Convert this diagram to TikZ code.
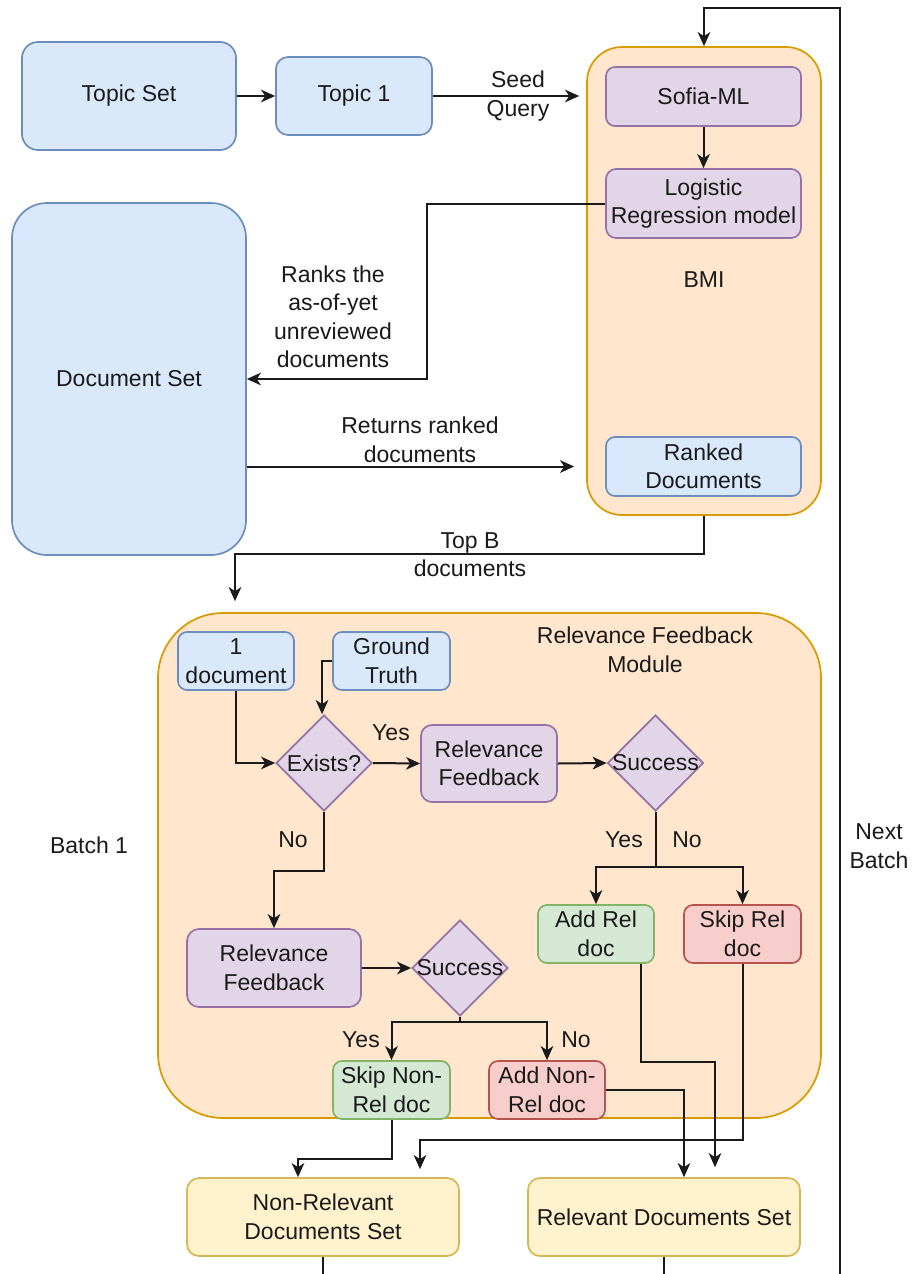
\documentclass[tikz,border=0pt]{standalone}
\usepackage{fontspec}
\setmainfont{Liberation Sans}
\usetikzlibrary{shapes.geometric,arrows.meta}

\definecolor{bluefill}{HTML}{DAE8FC}\definecolor{bluedraw}{HTML}{6C8EBF}
\definecolor{orafill}{HTML}{FFE6CC}\definecolor{oradraw}{HTML}{D79B00}
\definecolor{purfill}{HTML}{E1D5E7}\definecolor{purdraw}{HTML}{9673A6}
\definecolor{grnfill}{HTML}{D5E8D4}\definecolor{grndraw}{HTML}{82B366}
\definecolor{redfill}{HTML}{F8CECC}\definecolor{reddraw}{HTML}{B85450}
\definecolor{yelfill}{HTML}{FFF2CC}\definecolor{yeldraw}{HTML}{D6B656}
\definecolor{ink}{HTML}{1A1A1A}

\newcommand\diagfont{\fontsize{23}{28.5}\selectfont}

\begin{document}
\begin{tikzpicture}[x=1pt,y=-1pt,
  box/.style={draw, line width=1.7pt, inner sep=0pt, align=center,
    font=\diagfont, text=ink},
  bluebox/.style={box, fill=bluefill, draw=bluedraw},
  orabox/.style={box, fill=orafill, draw=oradraw},
  purbox/.style={box, fill=purfill, draw=purdraw},
  grnbox/.style={box, fill=grnfill, draw=grndraw},
  redbox/.style={box, fill=redfill, draw=reddraw},
  yelbox/.style={box, fill=yelfill, draw=yeldraw},
  decision/.style={diamond, aspect=1, draw=purdraw, fill=purfill,
    line width=1.7pt, inner sep=0pt, minimum width=96pt, minimum height=96pt,
    label={[font=\diagfont, text=ink]center:#1}},
  lbl/.style={font=\diagfont, align=center, inner sep=0pt, text=ink},
  arr/.style={draw=ink, line width=2pt,
    -{Stealth[length=14pt,width=12.5pt,inset=4pt]}},
  wire/.style={draw=ink, line width=2pt}]

\clip (0,0) rectangle (912,1274);
\fill[white] (0,0) rectangle (912,1274);

% ---------- top row ----------
\node[bluebox, minimum width=214, minimum height=108, rounded corners=16]
  (topicset) at (129,96) {Topic Set};
\node[bluebox, minimum width=156, minimum height=78, rounded corners=12]
  (topic1) at (354,96) {Topic 1};

% ---------- BMI container ----------
\node[orabox, minimum width=234, minimum height=468, rounded corners=35]
  (bmi) at (704,281) {};
\node[purbox, minimum width=195, minimum height=59, rounded corners=9]
  (sofia) at (703.5,96.5) {Sofia-ML};
\node[purbox, minimum width=195, minimum height=69, rounded corners=10]
  (logit) at (703.5,203.5) {Logistic\\Regression model};
\node[lbl] (bmilabel) at (704,280) {BMI};
\node[bluebox, minimum width=195, minimum height=59, rounded corners=9]
  (ranked) at (703.5,466.5) {Ranked\\Documents};

% ---------- document set ----------
\node[bluebox, minimum width=234, minimum height=352, rounded corners=35]
  (docset) at (129,379) {Document Set};

% ---------- relevance feedback module ----------
\node[orabox, minimum width=663, minimum height=505, rounded corners=65]
  (module) at (489.5,865.5) {};
\node[lbl] (modlabel) at (645,650) {Relevance Feedback\\Module};

\node[bluebox, minimum width=116, minimum height=58, rounded corners=9]
  (onedoc) at (236,661) {1\\document};
\node[bluebox, minimum width=117, minimum height=58, rounded corners=9]
  (ground) at (391.5,661) {Ground\\Truth};

\node[decision=Exists?] (exists) at (324,763) {};
\node[purbox, minimum width=136, minimum height=77, rounded corners=11]
  (rfa) at (489,763.5) {Relevance\\Feedback};
\node[decision=Success] (succa) at (655.5,763) {};

\node[grnbox, minimum width=116, minimum height=58, rounded corners=9]
  (addrel) at (596,934) {Add Rel\\doc};
\node[redbox, minimum width=117, minimum height=58, rounded corners=9]
  (skiprel) at (742.5,934) {Skip Rel\\doc};

\node[purbox, minimum width=174, minimum height=78, rounded corners=12]
  (rfb) at (274,968) {Relevance\\Feedback};
\node[decision=Success] (succb) at (460,968) {};

\node[grnbox, minimum width=117, minimum height=58, rounded corners=9]
  (skipnon) at (391.5,1090) {Skip Non-\\Rel doc};
\node[redbox, minimum width=116, minimum height=58, rounded corners=9]
  (addnon) at (547,1090) {Add Non-\\Rel doc};

% ---------- result sets ----------
\node[yelbox, minimum width=272, minimum height=78, rounded corners=12]
  (nonrelset) at (323,1217) {Non-Relevant\\Documents Set};
\node[yelbox, minimum width=272, minimum height=78, rounded corners=12]
  (relset) at (664,1217) {Relevant Documents Set};

% ---------- free texts ----------
\node[lbl] (batch) at (89,845) {Batch 1};
\node[lbl] (nextbatch) at (879,846) {Next\\Batch};

% ---------- connectors: top part ----------
\draw[arr] (topicset.east) -- (topic1.west);
\draw[arr, shorten >=7pt] (topic1.east) -- (topic1.east -| bmi.west);
\node[lbl] (seedlbl) at (518,96) {Seed\\Query};

\draw[arr] (sofia.south) -- (logit.north);

\draw[arr] (logit.west) -- ++(-178,0) |- (docset.east);
\node[lbl] (rankslbl) at (333,317) {Ranks the\\as-of-yet\\unreviewed\\documents};

\draw[arr, shorten >=12pt] (docset.east |- ranked.west) -- (bmi.west |- ranked.west);
\node[lbl] (returnslbl) at (420,440) {Returns ranked\\documents};

\coordinate (topbturn) at (235,554);
\draw[arr, shorten >=11pt] (bmi.south) |- (topbturn) -- (topbturn |- module.north);
\node[lbl] (topblbl) at (470,554.5) {Top B\\documents};

\coordinate (loopstart) at (840,1290);
\coordinate (looptop) at (840,8);
\draw[arr] (loopstart) -- (looptop) -| (bmi.north);

% ---------- connectors: feedback module ----------
\draw[arr] (onedoc.south) |- (exists.west);
\draw[arr] (ground.west) -| ([xshift=-2pt]exists.north);
\draw[arr] (exists.east) -- (rfa.west);
\node[lbl] (yesa) at (391,733) {Yes};
\draw[arr] (rfa.east) -- (succa.west);

\draw[arr] (succa.south) -- ++(0,55) -| (addrel.north);
\draw[arr] (succa.south) -- ++(0,55) -| (skiprel.north);
\node[lbl] (yesb) at (624,840) {Yes};
\node[lbl] (nob) at (687,840) {No};

\draw[arr] (exists.south) -- ++(0,59) -| (rfb.north);
\node[lbl] (noa) at (293,840) {No};
\draw[arr] (rfb.east) -- (succb.west);

\draw[arr] (succb.south) -- ++(0,5.5) -| (skipnon.north);
\draw[arr] (succb.south) -- ++(0,5.5) -| (addnon.north);
\node[lbl] (yesc) at (361,1040) {Yes};
\node[lbl] (noc) at (576,1040) {No};

% ---------- connectors: into the result sets ----------
\draw[arr] (skipnon.south) -- ++(0,39) -| ([xshift=-25pt]nonrelset.north);
\draw[arr, shorten >=8pt] (skiprel.south) -- ++(0,176) -| ([xshift=97pt]nonrelset.north);
\draw[arr, shorten >=10pt] ([xshift=45pt]addrel.south) -- ++(0,98) -| ([xshift=51pt]relset.north);
\draw[arr] (addnon.east) -| ([xshift=20pt]relset.north);

\coordinate (nonrelout) at (323,1290);
\coordinate (relout) at (664,1290);
\draw[wire] (nonrelset.south) -- (nonrelout);
\draw[wire] (relset.south) -- (relout);
\end{tikzpicture}
\end{document}
